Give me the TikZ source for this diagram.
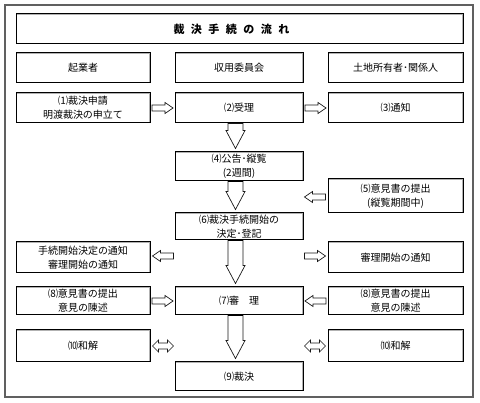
\documentclass[tikz,border=0pt]{standalone}
\usepackage{fontspec}
\setmainfont{Noto Sans CJK JP}
\usetikzlibrary{calc}
\newcommand\dnarr[2]{%
  \draw[blk] let \p1=($(#1.south)+(-3.5,0)$), \p2=(#2.north) in
    (\x1-7.5pt,\y1) -- (\x1-7.5pt,\y2+21pt) -- (\x1-9.5pt,\y2+21pt) -- (\x1,\y2+3pt)
    -- (\x1+9.5pt,\y2+21pt) -- (\x1+7.5pt,\y2+21pt) -- (\x1+7.5pt,\y1) -- cycle;}
\begin{document}
\begin{tikzpicture}[x=1pt,y=-1pt,
  box/.style={draw=black,line width=1pt,fill=white,inner sep=0pt,align=center,
    font=\fontsize{10}{14}\selectfont,
    path picture={\draw[gray!60,line width=2.4pt] (path picture bounding box.south west) rectangle (path picture bounding box.north east);}},
  L/.style={box,minimum width=134pt},
  M/.style={box,minimum width=128pt},
  R/.style={box,minimum width=135pt},
  blk/.style={draw=gray!20!black,line width=0.7pt,fill=white},
  rarr/.pic={\draw[blk] (-10.5,-3) -- (2.5,-3) -- (2.5,-5.5) -- (10.5,0) -- (2.5,5.5) -- (2.5,3) -- (-10.5,3) -- cycle;},
  darr/.pic={\draw[blk] (-10.5,0) -- (-4.5,-6) -- (-4.5,-3) -- (4.5,-3) -- (4.5,-6) -- (10.5,0) -- (4.5,6) -- (4.5,3) -- (-4.5,3) -- (-4.5,6) -- cycle;}
]
\useasboundingbox (0,0) rectangle (480,403);
\fill[white] (0,0) rectangle (480,403);
\draw[gray!75!black,line width=2pt] (5,5) rectangle (473,397);

\node[box,minimum width=447pt,minimum height=30pt,font=\fontsize{11}{13}\selectfont\bfseries] (title) at (239.5,29)
  {裁\hspace{6.5pt}決\hspace{6.5pt}手\hspace{6.5pt}続\hspace{6.5pt}の\hspace{6.5pt}流\hspace{6.5pt}れ\hspace{16pt}};

\node[L,minimum height=30pt] (h1) at (83,68) {起業者};
\node[M,minimum height=30pt] (h2) at (239,68) {収用委員会};
\node[R,minimum height=30pt] (h3) at (395.5,68) {土地所有者･関係人};

\node[L,minimum height=30pt] (n1) at (83,108) {⑴裁決申請\\明渡裁決の申立て};
\node[M,minimum height=30pt] (n2) at (239,108) {⑵受理};
\node[R,minimum height=30pt] (n3) at (395.5,108) {⑶通知};

\node[M,minimum height=29pt] (n4) at (239,166.5) {⑷公告･縦覧\\(2週間)};
\node[R,minimum height=34pt] (n5) at (395.5,196) {⑸意見書の提出\\(縦覧期間中)};
\node[M,minimum height=27pt] (n6) at (239,226.5) {⑹裁決手続開始の\\決定･登記};

\node[L,minimum height=31pt] (nl) at (83,257.5) {手続開始決定の通知\\審理開始の通知};
\node[R,minimum height=31pt] (nr) at (395.5,257.5) {審理開始の通知};

\node[L,minimum height=28pt] (n8l) at (83,301) {⑻意見書の提出\\意見の陳述};
\node[M,minimum height=28pt] (n7) at (239,301) {⑺審　理};
\node[R,minimum height=28pt] (n8r) at (395.5,301) {⑻意見書の提出\\意見の陳述};

\node[L,minimum height=32pt] (n10l) at (83,346) {⑽和解};
\node[R,minimum height=32pt] (n10r) at (395.5,346) {⑽和解};
\node[M,minimum height=29pt] (n9) at (239,376.5) {⑼裁決};

% down arrows
\dnarr{n2}{n4}
\dnarr{n4}{n6}
\dnarr{n6}{n7}
\dnarr{n7}{n9}
\foreach \n in {n4,n6,n7}
  \draw[black,line width=2pt] ($(\n.south)+(-11,0)$) -- ($(\n.south)+(4,0)$);

% horizontal arrows
\pic at ($(n1.east)!0.5!(n2.west)$) {rarr};
\pic at ($(n2.east)!0.5!(n3.west)$) {rarr};
\pic[rotate=180] at ($(n5.west)+(-12.5,1)$) {rarr};
\pic[rotate=180] at ($(nl.east)+(12.5,-1.5)$) {rarr};
\pic at ($(nr.west)+(-12.5,-1.5)$) {rarr};
\pic at ($(n8l.east)!0.5!(n7.west)$) {rarr};
\pic[rotate=180] at ($(n7.east)!0.5!(n8r.west)$) {rarr};
\pic at ($(n10l.east)+(12.5,0)$) {darr};
\pic at ($(n10r.west)+(-12.5,0)$) {darr};
\end{tikzpicture}
\end{document}
